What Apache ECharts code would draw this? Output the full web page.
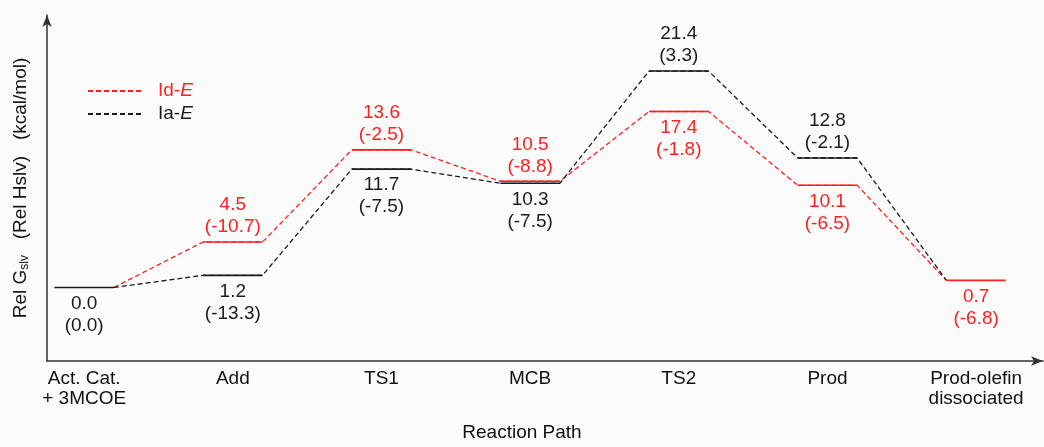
<!DOCTYPE html>
<html>
<head>
<meta charset="utf-8">
<script src="https://cdn.jsdelivr.net/npm/echarts@6/dist/echarts.min.js"></script>
<style>
  html, body { margin: 0; padding: 0; background: #fbfbfb; }
  #chart { width: 1044px; height: 447px; }
</style>
</head>
<body>
<div id="chart"></div>
<script>
// ---- data ----
const categories = ['Act. Cat.\n+ 3MCOE', 'Add', 'TS1', 'MCB', 'TS2', 'Prod', 'Prod-olefin\ndissociated'];
const idG = [0.0, 4.5, 13.6, 10.5, 17.4, 10.1, 0.7];
const idH = [0.0, -10.7, -2.5, -8.8, -1.8, -6.5, -6.8];
const iaG = [0.0, 1.2, 11.7, 10.3, 21.4, 12.8, 0.7];
const iaH = [0.0, -13.3, -7.5, -7.5, 3.3, -2.1, -6.8];
const seriesNames = ['Id-E', 'Ia-E'];
const xLabel = 'Reaction Path';

const RED = '#ff1f1f';
const BLACK = '#1a1a1a';
const FONT = '"Liberation Sans", Arial, Helvetica, sans-serif';
const FS = 19;
const HALF = 0.2;

// dashed path through all levels
function pathData(g) {
  const d = [[0 + HALF, g[0]]];
  for (let i = 1; i < g.length; i++) {
    d.push([i - HALF, g[i]]);
    if (i < g.length - 1) d.push([i + HALF, g[i]]);
  }
  return d;
}
// level data: [index, G, H, above]
function levelData(g, h, other, skip) {
  const d = [];
  for (let i = 0; i < g.length; i++) {
    if (skip.indexOf(i) >= 0) continue;
    d.push([i, g[i], h[i], g[i] > other[i] ? 1 : 0]);
  }
  return d;
}

function levelRenderer(color) {
  return function (params, api) {
    const i = api.value(0), g = api.value(1), h = api.value(2), above = api.value(3);
    const p1 = api.coord([i - HALF, g]);
    const p2 = api.coord([i + HALF, g]);
    const cx = (p1[0] + p2[0]) / 2;
    return {
      type: 'group',
      children: [
        { type: 'line', shape: { x1: p1[0], y1: p1[1], x2: p2[0], y2: p2[1] },
          style: { stroke: color, lineWidth: 1.6 } },
        { type: 'text',
          style: {
            text: g.toFixed(1) + '\n(' + h.toFixed(1) + ')',
            x: cx, y: above ? p1[1] - 4 : p1[1] + 5,
            align: 'center', verticalAlign: above ? 'bottom' : 'top',
            fontSize: FS, lineHeight: 22, fontFamily: FONT, fill: color
          } }
      ]
    };
  };
}

const chart = echarts.init(document.getElementById('chart'));
chart.setOption({
  backgroundColor: '#fbfbfb',
  animation: false,
  grid: { left: 47, right: 1, top: 15, bottom: 82 },
  legend: {
    orient: 'vertical', left: 82, top: 76,
    itemWidth: 56, itemHeight: 12, itemGap: 3,
    data: seriesNames,
    itemStyle: { opacity: 0 },
    formatter: function (name) {
      return name === 'Id-E' ? '{r|Id-}{ri|E}' : '{k|Ia-}{ki|E}';
    },
    textStyle: {
      fontSize: FS, fontFamily: FONT, lineHeight: 20, padding: [0, 0, 0, 9],
      rich: {
        r: { color: RED, fontSize: FS, fontFamily: FONT },
        ri: { color: RED, fontSize: FS, fontFamily: FONT, fontStyle: 'italic' },
        k: { color: BLACK, fontSize: FS, fontFamily: FONT },
        ki: { color: BLACK, fontSize: FS, fontFamily: FONT, fontStyle: 'italic' }
      }
    }
  },
  xAxis: {
    type: 'value', min: -0.25, max: 6.45,
    name: xLabel, nameLocation: 'middle', nameGap: 62,
    nameTextStyle: { fontSize: FS, fontFamily: FONT, color: '#111', padding: [0, 46, 0, 0] },
    axisLine: { show: true, onZero: false, symbol: ['none', 'arrow'], symbolSize: [7, 12],
      lineStyle: { color: '#333', width: 1.5 } },
    axisTick: { show: false },
    splitLine: { show: false },
    axisLabel: {
      customValues: [0, 1, 2, 3, 4, 5, 6],
      formatter: function (v) { return categories[Math.round(v)]; },
      fontSize: FS, lineHeight: 20, fontFamily: FONT, color: '#111', margin: 8
    }
  },
  yAxis: {
    type: 'value', min: -7.27, max: 26.94,
    name: '{a|Rel G}{s|slv}{a|   (Rel Hslv)   (kcal/mol)}',
    nameLocation: 'middle', nameGap: 16,
    nameTextStyle: {
      color: '#111',
      rich: {
        a: { fontSize: FS, fontFamily: FONT, color: '#111' },
        s: { fontSize: 12, fontFamily: FONT, color: '#111', padding: [8, 0, 0, 0] }
      }
    },
    axisLine: { show: true, onZero: false, symbol: ['none', 'arrow'], symbolSize: [7, 12],
      lineStyle: { color: '#333', width: 1.5 } },
    axisTick: { show: false },
    axisLabel: { show: false },
    splitLine: { show: false }
  },
  series: [
    { name: 'Id-E', type: 'line', data: pathData(idG), showSymbol: false, symbol: 'none',
      lineStyle: { color: RED, width: 1.3, type: [5, 3] }, itemStyle: { color: RED }, z: 2 },
    { name: 'Ia-E', type: 'line', data: pathData(iaG), showSymbol: false, symbol: 'none',
      lineStyle: { color: BLACK, width: 1.3, type: [5, 3] }, itemStyle: { color: BLACK }, z: 2 },
    { name: 'Id-E levels', type: 'custom', renderItem: levelRenderer(RED),
      data: levelData(idG, idH, iaG, [0]), z: 3 },
    { name: 'Ia-E levels', type: 'custom', renderItem: levelRenderer(BLACK),
      data: levelData(iaG, iaH, idG, [6]), z: 3 }
  ]
});
</script>
</body>
</html>
